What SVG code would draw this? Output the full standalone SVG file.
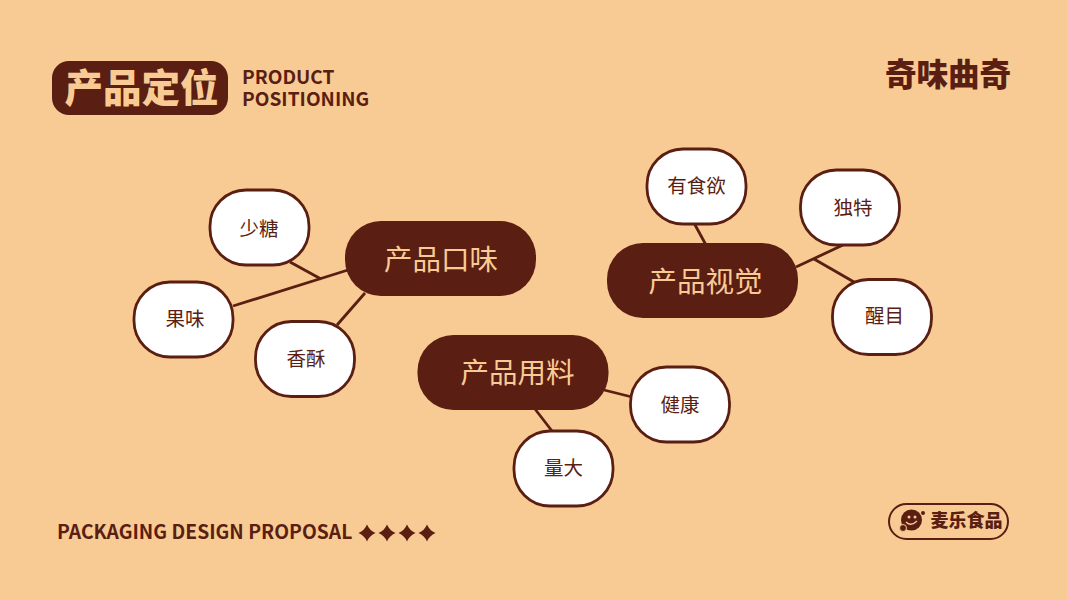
<svg xmlns="http://www.w3.org/2000/svg" width="1067" height="600" viewBox="0 0 1067 600">
<style>
.cjk{font-family:"Noto Sans CJK SC","Noto Sans CJK JP",sans-serif;text-anchor:middle}
.en{font-family:"Noto Sans CJK SC","Noto Sans",sans-serif;font-weight:700;fill:#5a1e12}
.main rect{fill:#5a1e12}
.main text{font-size:28.500px;fill:#f9cb94;font-weight:400}
.leaf rect{fill:#fff;stroke:#5a1e12;stroke-width:2.800}
.leaf text{font-size:19.500px;fill:#5a1e12}
#connectors line{stroke:#5a1e12;stroke-width:2.800}
</style>
<rect width="1067" height="600" fill="#f9cb94"/>
<g id="title">
<rect x="52" y="61" width="176" height="54" rx="17" fill="#5a1e12"/>
<text class="cjk" x="141.500" y="102" font-size="38.500" font-weight="900" fill="#f9cb94">产品定位</text>
<text class="en" font-size="19.100"><tspan x="242" y="83.500">PRODUCT</tspan><tspan x="242" y="106">POSITIONING</tspan></text>
</g>
<g id="brand"><text class="cjk" x="948" y="86" font-size="31.500" font-weight="900" fill="#5a1e12">奇味曲奇</text></g>
<g id="connectors">
<line x1="290" y1="262" x2="321" y2="279"/>
<line x1="233" y1="306" x2="348" y2="270"/>
<line x1="337" y1="325" x2="365" y2="293"/>
<line x1="694" y1="223" x2="706" y2="245"/>
<line x1="796" y1="267" x2="843" y2="245"/>
<line x1="814" y1="259" x2="854" y2="282"/>
<line x1="604" y1="390" x2="632" y2="397"/>
<line x1="535" y1="409" x2="552" y2="431"/>
</g>
<g id="n-taste" class="main"><rect x="345" y="221" width="191" height="75" rx="36"/><text class="cjk" x="441" y="269.500">产品口味</text></g>
<g id="n-visual" class="main"><rect x="607" y="243" width="191" height="75" rx="36"/><text class="cjk" x="705.500" y="291.500">产品视觉</text></g>
<g id="n-material" class="main"><rect x="417.500" y="335" width="191" height="75" rx="36"/><text class="cjk" x="517.500" y="382.500">产品用料</text></g>
<g id="n-sugar" class="leaf"><rect x="210" y="190" width="99" height="75" rx="36"/><text class="cjk" x="259" y="235.500">少糖</text></g>
<g id="n-fruit" class="leaf"><rect x="134" y="282" width="99" height="75" rx="36"/><text class="cjk" x="185" y="326">果味</text></g>
<g id="n-crisp" class="leaf"><rect x="255.500" y="321.500" width="99" height="75" rx="36"/><text class="cjk" x="306" y="366">香酥</text></g>
<g id="n-appetite" class="leaf"><rect x="647" y="149" width="99" height="75" rx="36"/><text class="cjk" x="696.500" y="192.500">有食欲</text></g>
<g id="n-unique" class="leaf"><rect x="800.500" y="170" width="99" height="75" rx="36"/><text class="cjk" x="853" y="214.500">独特</text></g>
<g id="n-eye" class="leaf"><rect x="832.500" y="279.500" width="99" height="75" rx="36"/><text class="cjk" x="884.500" y="323">醒目</text></g>
<g id="n-health" class="leaf"><rect x="630.500" y="367" width="99" height="75" rx="36"/><text class="cjk" x="680" y="412">健康</text></g>
<g id="n-amount" class="leaf"><rect x="514" y="431" width="99" height="75" rx="36"/><text class="cjk" x="563.500" y="475">量大</text></g>
<g id="footer">
<text class="en" x="57" y="539" font-size="19.300">PACKAGING DESIGN PROPOSAL</text>
<g fill="#5a1e12">
<path d="M367 524.500Q369.500 530.500 375.500 533Q369.500 535.500 367 541.500Q364.500 535.500 358.500 533Q364.500 530.500 367 524.500Z"/>
<path d="M387 524.500Q389.500 530.500 395.500 533Q389.500 535.500 387 541.500Q384.500 535.500 378.500 533Q384.500 530.500 387 524.500Z"/>
<path d="M407 524.500Q409.500 530.500 415.500 533Q409.500 535.500 407 541.500Q404.500 535.500 398.500 533Q404.500 530.500 407 524.500Z"/>
<path d="M427 524.500Q429.500 530.500 435.500 533Q429.500 535.500 427 541.500Q424.500 535.500 418.500 533Q424.500 530.500 427 524.500Z"/>
</g>
</g>
<g id="maile">
<rect x="889" y="504" width="119" height="35" rx="17.500" fill="none" stroke="#5a1e12" stroke-width="2"/>
<circle cx="911.500" cy="520" r="10.500" fill="#5a1e12"/>
<circle cx="903" cy="528" r="3.500" fill="#5a1e12" stroke="#f9cb94"/>
<circle cx="923" cy="513" r="2" fill="#5a1e12"/>
<circle cx="909" cy="517" r="1.500" fill="#f9cb94"/>
<circle cx="915" cy="517" r="1.500" fill="#f9cb94"/>
<path d="M906 522Q911 527 917 521" fill="none" stroke="#f9cb94" stroke-width="1.300"/>
<text class="cjk" x="966.500" y="527" font-size="18" font-weight="900" fill="#5a1e12">麦乐食品</text>
</g>
</svg>
